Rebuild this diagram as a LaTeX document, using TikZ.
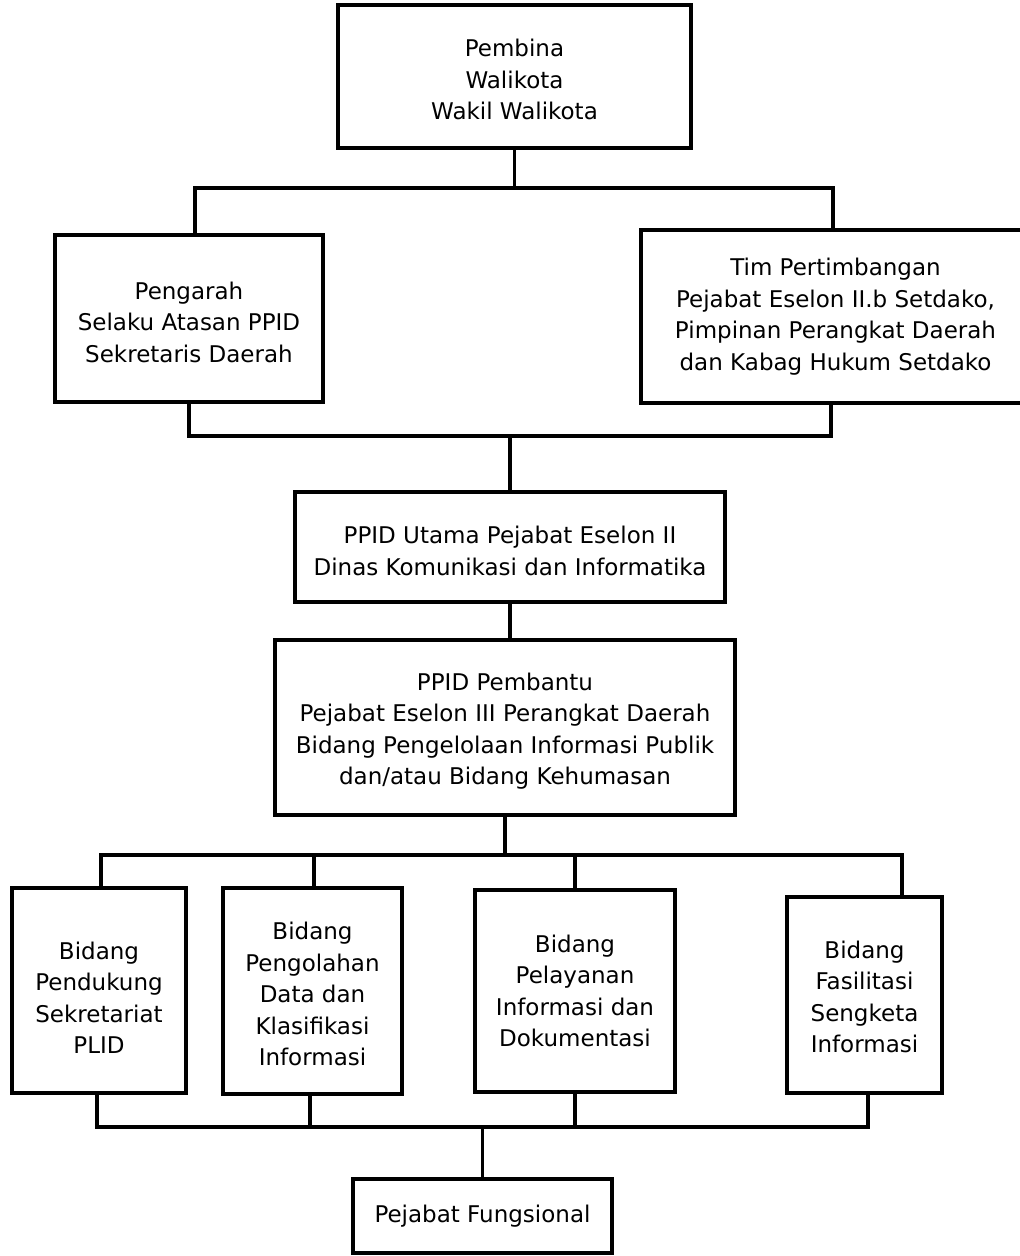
\documentclass[tikz,border=0pt]{standalone}
\usepackage{fontspec}
\setmainfont{DejaVu Sans}
\newcommand{\tdn}[1]{\rule{0pt}{#1pt}}
\begin{document}
\begin{tikzpicture}[x=1pt,y=-1pt,
  box/.style={draw,line width=3.5pt,inner sep=0pt,align=center,font=\fontsize{23}{31.5}\selectfont},
  conn/.style={line width=3.5pt}]
\useasboundingbox (0,0) rectangle (1020,1256);
% boxes
\node[box,minimum width=353,minimum height=143] (top) at (514.5,76.5) {\tdn{23.5}Pembina\\Walikota\\Wakil Walikota};
\node[box,minimum width=268,minimum height=167] (pg) at (189,318.5) {\tdn{24.5}Pengarah\\Selaku Atasan PPID\\Sekretaris Daerah};
\node[box,minimum width=389,minimum height=173] (tim) at (835.5,316.5) {Tim Pertimbangan\\Pejabat Eselon II.b Setdako,\\Pimpinan Perangkat Daerah\\dan Kabag Hukum Setdako};
\node[box,minimum width=430,minimum height=110] (ut) at (510,547) {\tdn{25.5}PPID Utama Pejabat Eselon II\\Dinas Komunikasi dan Informatika};
\node[box,minimum width=460,minimum height=175] (pb) at (505,727.5) {\tdn{24.5}PPID Pembantu\\Pejabat Eselon III Perangkat Daerah\\Bidang Pengelolaan Informasi Publik\\dan/atau Bidang Kehumasan};
\node[box,minimum width=174,minimum height=205] (b1) at (99,990.5) {\tdn{31.5}Bidang\\Pendukung\\Sekretariat\\PLID};
\node[box,minimum width=179,minimum height=206] (b2) at (312.5,991) {\tdn{23.5}Bidang\\Pengolahan\\Data dan\\Klasifikasi\\Informasi};
\node[box,minimum width=200,minimum height=202] (b3) at (575,991) {Bidang\\Pelayanan\\Informasi dan\\Dokumentasi};
\node[box,minimum width=155,minimum height=196] (b4) at (864.5,995) {\tdn{21.5}Bidang\\Fasilitasi\\Sengketa\\Informasi};
\node[box,minimum width=259,minimum height=74] (pf) at (482.5,1216) {Pejabat Fungsional};
% bar coordinates
\coordinate (t1) at (195,188);
\coordinate (t2) at (833,188);
\coordinate (c1) at (189,436);
\coordinate (c2) at (831,436);
\coordinate (d1) at (101,855);
\coordinate (d2) at (902,855);
\coordinate (d3) at (314,855);
\coordinate (e1) at (97,1127);
\coordinate (e2) at (868,1127);
\coordinate (e3) at (310,1127);
% connectors
\draw[conn] (top.south) -- (top.south |- t1);
\draw[conn] (t1 |- pg.north) -- (t1) -- (t2) -- (t2 |- tim.north);
\draw[conn] (pg.south -| c1) -- (c1) -- (c2) -- (c2 |- tim.south);
\draw[conn] (ut.north |- c1) -- (ut.north);
\draw[conn] (ut.south) -- (ut.south |- pb.north);
\draw[conn] (pb.south) -- (pb.south |- d1);
\draw[conn] (d1 |- b1.north) -- (d1) -- (d2) -- (d2 |- b4.north);
\draw[conn] (d3) -- (d3 |- b2.north);
\draw[conn] (b3.north |- d1) -- (b3.north);
\draw[conn] (e1 |- b1.south) -- (e1) -- (e2) -- (e2 |- b4.south);
\draw[conn] (e3 |- b2.south) -- (e3);
\draw[conn] (b3.south) -- (b3.south |- e1);
\draw[conn] (pf.north |- e1) -- (pf.north);
\end{tikzpicture}
\end{document}
